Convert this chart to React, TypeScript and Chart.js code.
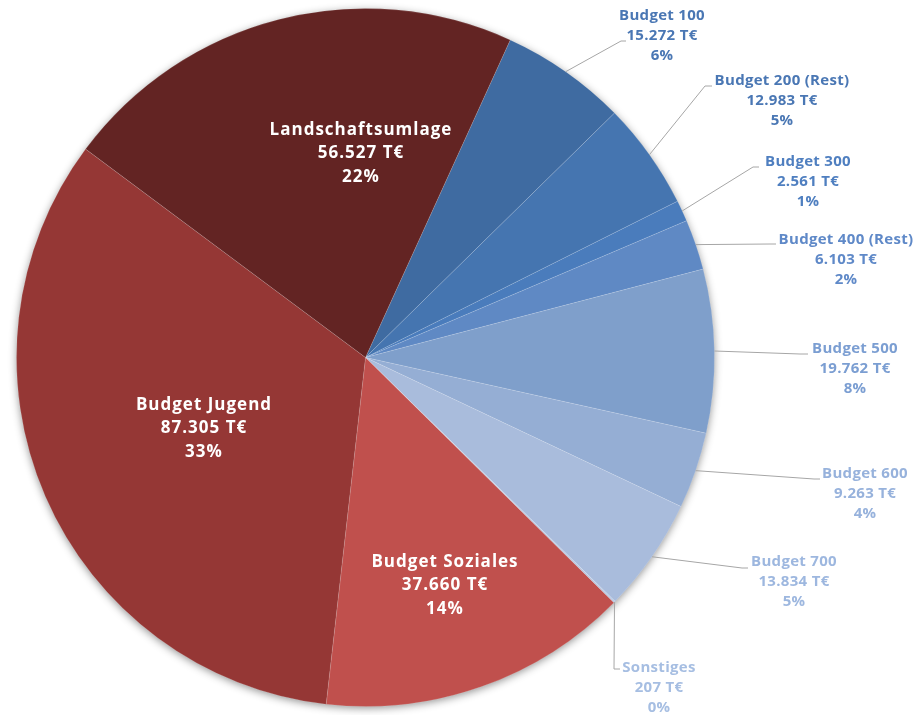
import React, { useEffect, useRef } from 'react';
import { Chart, registerables } from 'chart.js';

Chart.register(...registerables);

// ---- data ----
const categories = [
  'Budget 100',
  'Budget 200 (Rest)',
  'Budget 300',
  'Budget 400 (Rest)',
  'Budget 500',
  'Budget 600',
  'Budget 700',
  'Sonstiges',
  'Budget Soziales',
  'Budget Jugend',
  'Landschaftsumlage',
];
const values = [15272, 12983, 2561, 6103, 19762, 9263, 13834, 207, 37660, 87305, 56527];
const unit = 'T€';

// ---- styles ----
const sliceColors = [
  '#3F6BA1',
  '#4575B0',
  '#4A7CBC',
  '#5F89C4',
  '#7F9FCB',
  '#95AED4',
  '#A9BCDC',
  '#B8C8E2',
  '#C0504D',
  '#953735',
  '#632423',
];
const labelColors = [
  '#4A77B4',
  '#4A77B4',
  '#4F7FC0',
  '#5F89C8',
  '#7B9ED2',
  '#97B2DC',
  '#9DB7DF',
  '#A6BEE2',
  '#FFFFFF',
  '#FFFFFF',
  '#FFFFFF',
];
// label layout: text centre x, first line y, optional leader elbow/end
type Layout = { x: number; y: number; inside?: boolean; ex?: number; ey?: number; hx?: number };
const labelLayout: Layout[] = [
  { x: 662, y: 16, ex: 621, ey: 41, hx: 626 },
  { x: 782, y: 81, ex: 705, ey: 86, hx: 712 },
  { x: 808, y: 162, ex: 753, ey: 167, hx: 759 },
  { x: 846, y: 240, ex: 770, ey: 244, hx: 776 },
  { x: 855, y: 349, ex: 800, ey: 354, hx: 808 },
  { x: 865, y: 474, ex: 814, ey: 479, hx: 820 },
  { x: 794, y: 562, ex: 742, ey: 568, hx: 748 },
  { x: 659, y: 668, ex: 614, ey: 669, hx: 620 },
  { x: 445, y: 562, inside: true },
  { x: 204, y: 405, inside: true },
  { x: 361, y: 130, inside: true },
];

const FONT = '"Open Sans", "DejaVu Sans", sans-serif';

function fmt(n: number): string {
  return String(n).replace(/\B(?=(\d{3})+(?!\d))/g, '.');
}

const shadowPlugin = {
  id: 'pieShadow',
  beforeDatasetsDraw(chart: any) {
    const meta = chart.getDatasetMeta(0);
    const arc = meta.data[0];
    if (!arc) return;
    const ctx = chart.ctx;
    ctx.save();
    ctx.shadowColor = 'rgba(0,0,0,0.45)';
    ctx.shadowBlur = 9;
    ctx.shadowOffsetX = 0;
    ctx.shadowOffsetY = 2;
    ctx.fillStyle = '#ffffff';
    ctx.beginPath();
    ctx.arc(arc.x, arc.y, arc.outerRadius - 0.5, 0, Math.PI * 2);
    ctx.fill();
    ctx.restore();
  },
};

const labelPlugin = {
  id: 'sliceLabels',
  afterDatasetsDraw(chart: any) {
    const meta = chart.getDatasetMeta(0);
    const ctx = chart.ctx;
    const data: number[] = chart.data.datasets[0].data;
    const total = data.reduce((a, b) => a + b, 0);
    ctx.save();
    meta.data.forEach((arc: any, i: number) => {
      const lay = labelLayout[i];
      if (!lay) return;
      // leader line
      if (!lay.inside && lay.ex !== undefined) {
        const mid = (arc.startAngle + arc.endAngle) / 2;
        const sx = arc.x + Math.cos(mid) * arc.outerRadius;
        const sy = arc.y + Math.sin(mid) * arc.outerRadius;
        ctx.strokeStyle = '#A6A6A6';
        ctx.lineWidth = 1;
        ctx.beginPath();
        ctx.moveTo(sx, sy);
        ctx.lineTo(lay.ex, lay.ey);
        ctx.lineTo(lay.hx, lay.ey);
        ctx.stroke();
      }
      const lines = [
        chart.data.labels[i],
        fmt(data[i]) + ' ' + unit,
        Math.round((data[i] / total) * 100) + '%',
      ];
      const size = lay.inside ? 17 : 15;
      const lh = lay.inside ? 23.5 : 19.8;
      ctx.font = `bold ${size}px ${FONT}`;
      try {
        (ctx as any).letterSpacing = lay.inside ? '1px' : '0.3px';
      } catch (e) {}
      ctx.fillStyle = labelColors[i];
      ctx.textAlign = 'center';
      ctx.textBaseline = 'middle';
      lines.forEach((t: string, k: number) => {
        ctx.fillText(t, lay.x, lay.y + k * lh);
      });
    });
    ctx.restore();
  },
};

export default function App() {
  const ref = useRef<HTMLCanvasElement | null>(null);
  useEffect(() => {
    if (!ref.current) return;
    const chart = new Chart(ref.current, {
      type: 'pie',
      data: {
        labels: categories,
        datasets: [
          {
            data: values,
            backgroundColor: sliceColors,
            borderColor: 'rgba(255,255,255,0.12)',
            borderWidth: 1,
          },
        ],
      },
      options: {
        responsive: false,
        animation: false,
        rotation: 24.5,
        layout: { padding: { left: 16, right: 201, top: 8, bottom: 8 } },
        plugins: {
          legend: { display: false },
          tooltip: { enabled: false },
        },
      },
      plugins: [shadowPlugin, labelPlugin],
    });
    return () => chart.destroy();
  }, []);
  return (
    <div style={{ position: 'absolute', left: 0, top: 0, width: 916, height: 715, background: '#fff' }}>
      <canvas ref={ref} width={916} height={715} style={{ display: 'block' }} />
    </div>
  );
}
